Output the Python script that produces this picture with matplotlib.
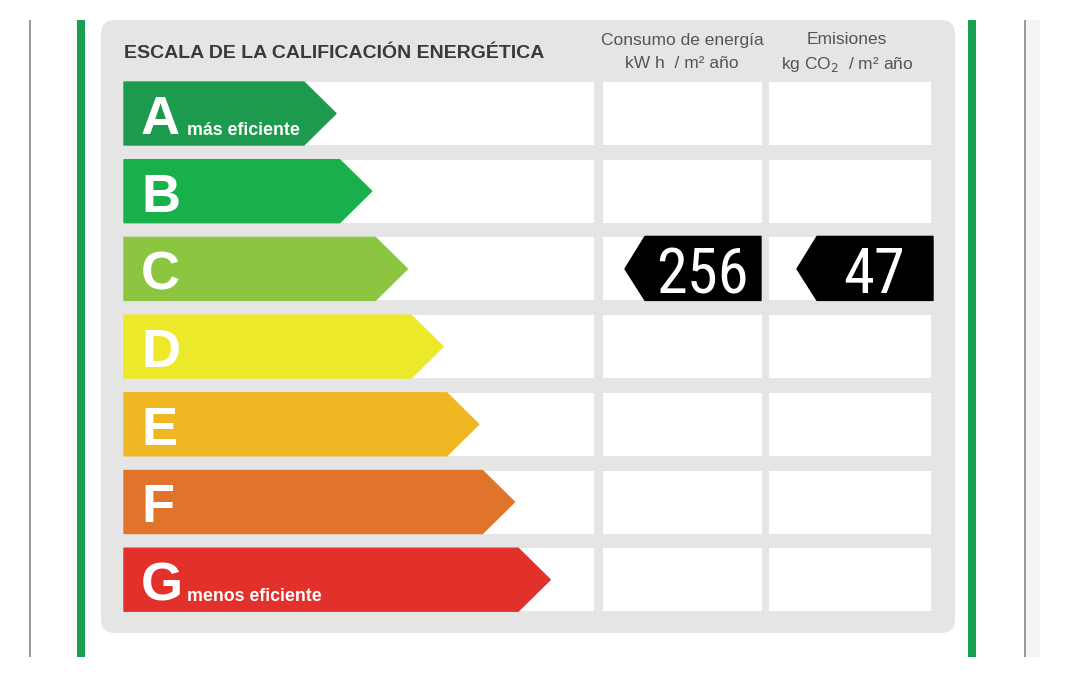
import matplotlib
matplotlib.use('Agg')
from matplotlib import pyplot as plt
from matplotlib.patches import Polygon, Rectangle, FancyBboxPatch

# datos de la etiqueta
clases = ['A', 'B', 'C', 'D', 'E', 'F', 'G']
colores = ['#1c9b4e', '#17b04b', '#8cc640', '#ece82a', '#efb823', '#e0742a', '#e2302b']
subtitulos = {'A': 'más eficiente', 'G': 'menos eficiente'}
calificacion = 'C'
consumo = 256      # kW h / m2 año
emisiones = 47     # kg CO2 / m2 año

titulo = 'ESCALA DE LA CALIFICACIÓN ENERGÉTICA'
col1 = ['Consumo de energía', 'kW h  / m² año']
col2 = ['Emisiones', 'kg CO$_2$  / m² año']

W, H = 1070, 680
fig = plt.figure(figsize=(W / 100, H / 100), dpi=100)
ax = fig.add_axes([0, 0, 1, 1])
ax.set_xlim(0, W)
ax.set_ylim(H, 0)
ax.axis('off')

# marco exterior
ax.add_patch(Rectangle((29, 20), 1.5, 637, color='#9a9a9a', lw=0))
ax.add_patch(Rectangle((1024, 20), 1.5, 637, color='#9a9a9a', lw=0))
ax.add_patch(Rectangle((1026, 20), 14, 637, color='#f4f4f4', lw=0))
ax.add_patch(Rectangle((77, 20), 8, 637, color='#16a050', lw=0))
ax.add_patch(Rectangle((968, 20), 8, 637, color='#16a050', lw=0))

# panel gris
ax.add_patch(FancyBboxPatch((101, 20), 854, 613, boxstyle='round,pad=0,rounding_size=14',
                            fc='#e5e5e5', ec='none'))

ax.text(124, 53, titulo, fontsize=14.0, fontweight='bold', color='#3a3a3a',
        family='Liberation Sans', va='center', ha='left')
for xc, lineas in [(682, col1), (847, col2)]:
    ax.text(xc, 40, lineas[0], fontsize=12.5, color='#555555', family='Liberation Sans',
            ha='center', va='center')
    ax.text(xc, 64, lineas[1], fontsize=12.5, color='#555555', family='Liberation Sans',
            ha='center', va='center')

y0 = 82
paso = 77.7
alto = 63
for i, (c, col) in enumerate(zip(clases, colores)):
    top = y0 + i * paso
    bot = top + alto
    mid = (top + bot) / 2
    # filas blancas
    ax.add_patch(Rectangle((124, top), 470, alto, color='white', lw=0))
    ax.add_patch(Rectangle((603, top), 159, alto, color='white', lw=0))
    ax.add_patch(Rectangle((769, top), 162, alto, color='white', lw=0))
    # flecha de la clase
    punta = 336 + i * 35.7
    cuerpo = punta - 32
    ax.add_patch(Polygon([(124, top), (cuerpo, top), (punta, mid), (cuerpo, bot), (124, bot)],
                         closed=True, fc=col, ec=col, lw=1, joinstyle='round'))
    ax.text(141, bot - 11, c, fontsize=39, fontweight='bold', color='white',
            family='Liberation Sans', ha='left', va='baseline')
    if c in subtitulos:
        ax.text(187, bot - 10, subtitulos[c], fontsize=12.8, fontweight='bold', color='white',
                family='Liberation Sans', ha='left', va='baseline')
    if c == calificacion:
        for x_tip, x_der, val in [(625, 761, consumo), (797, 933, emisiones)]:
            ax.add_patch(Polygon([(x_tip, mid), (x_tip + 20, top - 1), (x_der, top - 1),
                                  (x_der, bot), (x_tip + 20, bot)],
                                 closed=True, fc='black', ec='black', lw=1, joinstyle='round'))
            ax.text((x_tip + 18 + x_der) / 2, bot - 7, str(val), fontsize=45, color='white',
                    family=['Roboto Condensed', 'DejaVu Sans'], fontstretch='condensed',
                    ha='center', va='baseline')

fig.savefig('out.png', dpi=100)
